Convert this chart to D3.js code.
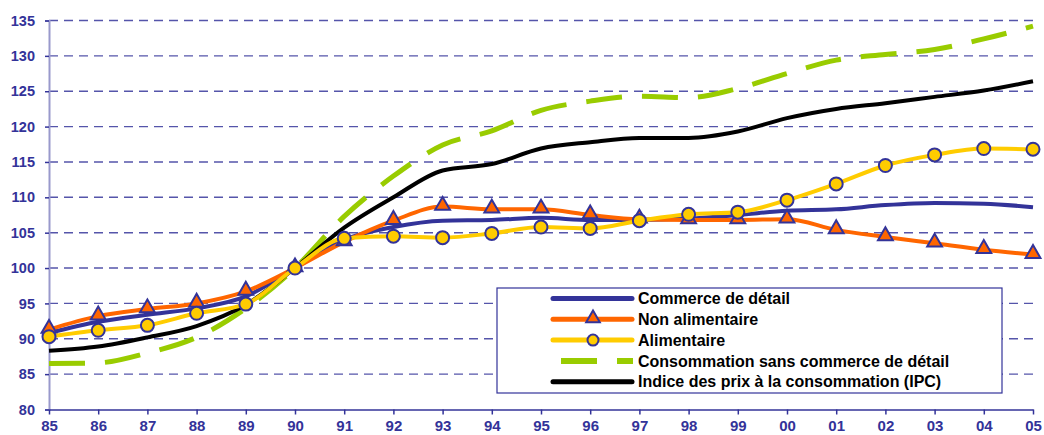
<!DOCTYPE html>
<html>
<head>
<meta charset="utf-8">
<script src="https://cdn.jsdelivr.net/npm/d3@7"></script>
<style>
  body { margin: 0; background: #fff; }
  svg { display: block; font-family: "Liberation Sans", Arial, sans-serif; }
</style>
</head>
<body>
<div id="chart"></div>
<script>
const years = ["85", "86", "87", "88", "89", "90", "91", "92", "93", "94", "95",
    "96", "97", "98", "99", "00", "01", "02", "03", "04", "05"];
const yTicks = [80, 85, 90, 95, 100, 105, 110, 115, 120, 125, 130, 135];

const commerce = [90.8, 92.4, 93.4, 94.3, 96.0, 100, 104.0, 105.8, 106.7, 106.8, 107.1,
    106.8, 106.8, 107.0, 107.5, 108.1, 108.3, 108.9, 109.2, 109.1, 108.6];
const nonAlim = [91.3, 93.2, 94.2, 95.0, 96.7, 100, 103.7, 106.7, 108.7, 108.3, 108.3,
    107.5, 106.9, 106.8, 106.8, 106.9, 105.4, 104.4, 103.5, 102.6, 101.9];
const alim = [90.3, 91.2, 91.9, 93.6, 94.9, 100, 104.2, 104.5, 104.3, 104.9, 105.8,
    105.6, 106.7, 107.6, 107.9, 109.6, 111.9, 114.5, 116.0, 116.9, 116.8];
const consoSans = [86.5, 86.6, 88.0, 90.2, 94.3, 100, 107.3, 113.0, 117.4, 119.4, 122.3,
    123.6, 124.3, 124.1, 125.4, 127.5, 129.4, 130.2, 130.9, 132.4, 134.2];
const ipc = [88.3, 88.9, 90.2, 91.8, 94.8, 100, 105.7, 110.0, 113.8, 114.7, 116.9,
    117.8, 118.4, 118.4, 119.3, 121.2, 122.5, 123.3, 124.2, 125.1, 126.4];

const series = [
    { name: "Commerce de détail", values: commerce, color: "#333399", width: 4, marker: null },
    { name: "Non alimentaire", values: nonAlim, color: "#ff6600", width: 4, marker: "triangle" },
    { name: "Alimentaire", values: alim, color: "#ffcc00", width: 4, marker: "circle" },
    { name: "Consommation sans commerce de détail", values: consoSans, color: "#99cc00", width: 5, dash: "36,20", marker: null },
    { name: "Indice des prix à la consommation (IPC)", values: ipc, color: "#000000", width: 4, marker: null }
];
// drawing order (back to front)
const drawOrder = [3, 4, 0, 1, 2];

const width = 1044, height = 435;
const margin = { left: 49, right: 11, top: 20.5, bottom: 25.5 };
const navy = "#333399";

const svg = d3.select("#chart").append("svg")
    .attr("width", width)
    .attr("height", height);

const x = d3.scalePoint()
    .domain(years)
    .range([margin.left, width - margin.right]);

const y = d3.scaleLinear()
    .domain([80, 135])
    .range([height - margin.bottom, margin.top]);

// gridlines
svg.append("g")
    .selectAll("line")
    .data(yTicks.filter(d => d > 80))
    .join("line")
    .attr("x1", margin.left)
    .attr("x2", width - margin.right)
    .attr("y1", d => y(d))
    .attr("y2", d => y(d))
    .attr("stroke", "#5555aa")
    .attr("stroke-width", 1.4)
    .attr("stroke-dasharray", "9,6");

// y axis
const yAxis = svg.append("g")
    .attr("transform", `translate(${margin.left},0)`)
    .call(d3.axisLeft(y).tickValues(yTicks).tickSize(4).tickPadding(10));
yAxis.select(".domain").attr("stroke", "#9999cc").attr("stroke-width", 2);
yAxis.selectAll(".tick line").attr("stroke", navy).attr("stroke-width", 1.5);
yAxis.selectAll("text")
    .attr("fill", navy)
    .attr("font-size", 14.5)
    .attr("font-weight", "bold");

// x axis
const xAxis = svg.append("g")
    .attr("transform", `translate(0,${y(80)})`)
    .call(d3.axisBottom(x).tickSize(5).tickPadding(6).tickSizeOuter(0));
xAxis.select(".domain").attr("stroke", navy).attr("stroke-width", 1.5);
xAxis.selectAll(".tick line").attr("stroke", navy).attr("stroke-width", 1.5);
xAxis.selectAll("text")
    .attr("fill", navy)
    .attr("font-size", 15)
    .attr("font-weight", "bold");

const line = d3.line()
    .x((d, i) => x(years[i]))
    .y(d => y(d))
    .curve(d3.curveMonotoneX);

const triangle = d3.symbol().type(d3.symbolTriangle).size(95);

drawOrder.forEach(k => {
    const s = series[k];
    svg.append("path")
        .datum(s.values)
        .attr("fill", "none")
        .attr("stroke", s.color)
        .attr("stroke-width", s.width)
        .attr("stroke-linejoin", "round")
        .attr("stroke-dasharray", s.dash || null)
        .attr("d", line);

    if (s.marker === "triangle") {
        svg.append("g").selectAll("path")
            .data(s.values)
            .join("path")
            .attr("transform", (d, i) => `translate(${x(years[i])},${y(d) - 1})`)
            .attr("d", triangle)
            .attr("fill", s.color)
            .attr("stroke", navy)
            .attr("stroke-width", 2);
    } else if (s.marker === "circle") {
        svg.append("g").selectAll("circle")
            .data(s.values)
            .join("circle")
            .attr("cx", (d, i) => x(years[i]))
            .attr("cy", d => y(d))
            .attr("r", 6.5)
            .attr("fill", s.color)
            .attr("stroke", navy)
            .attr("stroke-width", 2);
    }
});

// legend
const legend = svg.append("g").attr("transform", "translate(497,288)");
legend.append("rect")
    .attr("width", 505)
    .attr("height", 105)
    .attr("fill", "#fff")
    .attr("stroke", navy)
    .attr("stroke-width", 1.2);

const rows = legend.selectAll("g")
    .data(series)
    .join("g")
    .attr("transform", (d, i) => `translate(0,${10.5 + i * 20.8})`);

rows.append("line")
    .attr("x1", d => d.dash ? 64 : 56)
    .attr("x2", d => d.dash ? 136 : 135)
    .attr("stroke", d => d.color)
    .attr("stroke-width", d => d.width + 1)
    .attr("stroke-linecap", d => d.dash ? "butt" : "round")
    .attr("stroke-dasharray", d => d.dash || null);

rows.filter(d => d.marker === "triangle")
    .append("path")
    .attr("transform", "translate(96,-1)")
    .attr("d", d3.symbol().type(d3.symbolTriangle).size(80))
    .attr("fill", d => d.color)
    .attr("stroke", navy)
    .attr("stroke-width", 2);

rows.filter(d => d.marker === "circle")
    .append("circle")
    .attr("cx", 96)
    .attr("r", 5.5)
    .attr("fill", d => d.color)
    .attr("stroke", navy)
    .attr("stroke-width", 2);

rows.append("text")
    .attr("x", 141)
    .attr("dy", "0.36em")
    .attr("font-size", 16)
    .attr("font-weight", "bold")
    .attr("fill", "#000")
    .text(d => d.name);
</script>
</body>
</html>
